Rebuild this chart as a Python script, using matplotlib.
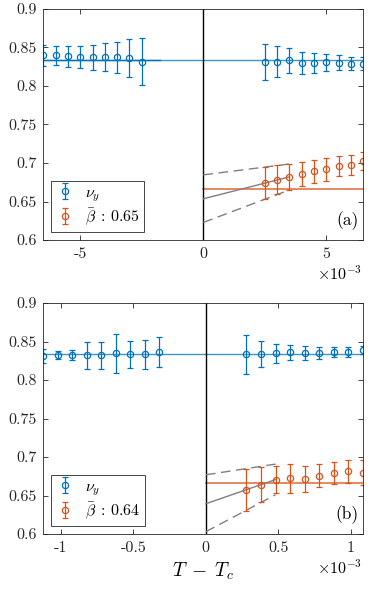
import numpy as np
import matplotlib
matplotlib.use('Agg')
import matplotlib.pyplot as plt

plt.rcParams['font.family'] = 'serif'
plt.rcParams['font.serif'] = ['cmr10']
plt.rcParams['mathtext.fontset'] = 'cm'
plt.rcParams['axes.unicode_minus'] = False

BLUE = '#0072BD'
ORANGE = '#D95319'

# panel (a): T - Tc in units of 1e-3
a_x_left = [-6.5, -6.0, -5.5, -5.0, -4.5, -4.0, -3.5, -3.0, -2.5]
a_x_right = [2.5, 3.0, 3.5, 4.0, 4.5, 5.0, 5.5, 6.0, 6.5]
a_nu_left = [0.8396, 0.8396, 0.8383, 0.8378, 0.8370, 0.8380, 0.8374, 0.8365, 0.8317]
a_nu_left_err = [0.013, 0.0126, 0.014, 0.0146, 0.0157, 0.018, 0.020, 0.025, 0.030]
a_nu_right = [0.8313, 0.8317, 0.8335, 0.8300, 0.8296, 0.8309, 0.8304, 0.8291, 0.8291]
a_nu_right_err = [0.0237, 0.020, 0.016, 0.014, 0.013, 0.011, 0.010, 0.0085, 0.008]
a_beta = [0.6737, 0.6785, 0.6820, 0.6860, 0.6890, 0.6917, 0.6956, 0.6974, 0.7022]
a_beta_err = [0.0206, 0.0186, 0.0167, 0.0154, 0.0147, 0.0145, 0.013, 0.0127, 0.0118]
a_fit = [0.6535, 0.6820]       # fit line at x=0 and x=3.5
a_fit_hi = [0.6846, 0.6987]
a_fit_lo = [0.6228, 0.6650]
a_fit_x = [0.0, 3.5]
a_xlim = (-6.5, 6.5)
a_xticks = [-5, 0, 5]

# panel (b)
b_x_left = [-1.12, -1.02, -0.92, -0.82, -0.72, -0.62, -0.52, -0.42, -0.32]
b_x_right = [0.28, 0.38, 0.48, 0.58, 0.68, 0.78, 0.88, 0.98, 1.08]
b_nu_left = [0.8310, 0.8323, 0.8323, 0.8319, 0.8319, 0.8345, 0.8332, 0.8332, 0.8362]
b_nu_left_err = [0.0093, 0.0054, 0.0065, 0.017, 0.017, 0.025, 0.0172, 0.0187, 0.0196]
b_nu_right = [0.8332, 0.8340, 0.8345, 0.8358, 0.8353, 0.8353, 0.8362, 0.8366, 0.8392]
b_nu_right_err = [0.0256, 0.017, 0.0129, 0.0103, 0.0088, 0.0078, 0.0069, 0.0065, 0.0056]
b_beta = [0.6576, 0.6642, 0.6707, 0.6725, 0.6716, 0.6755, 0.6795, 0.6812, 0.6795]
b_beta_err = [0.0273, 0.0223, 0.017, 0.019, 0.0168, 0.015, 0.0144, 0.0153, 0.016]
b_fit = [0.6393, 0.6707]
b_fit_hi = [0.6769, 0.6908]
b_fit_lo = [0.6030, 0.6510]
b_fit_x = [0.0, 0.48]
b_xlim = (-1.12, 1.085)
b_xticks = [-1, -0.5, 0, 0.5, 1]

nu_const = 0.8333
beta_const = 0.6667
yticks = [0.6, 0.65, 0.7, 0.75, 0.8, 0.85, 0.9]


def draw_panel(ax, xl, xr, nul, nule, nur, nure, beta, betae,
               fx, fit, fhi, flo, xlim, xticks, beta_label, tag, dark_seg):
    ax.axhline(nu_const, color=BLUE, lw=1.0, alpha=0.75, zorder=1)
    if dark_seg:
        ax.plot([xlim[0], xlim[0] * 0.27], [nu_const, nu_const], color=BLUE, lw=1.0, zorder=1)
    ax.plot([0, xlim[1]], [beta_const, beta_const], color=ORANGE, lw=1.2, alpha=0.8, zorder=1)
    ax.axvline(0, color='k', lw=1.0, zorder=2)

    ax.plot(fx, fit, color='0.5', lw=1.0, zorder=2)
    ax.plot(fx, fhi, color='0.5', lw=1.0, ls=(0, (7, 4)), zorder=2)
    ax.plot(fx, flo, color='0.5', lw=1.0, ls=(0, (7, 4)), zorder=2)

    ekw = dict(fmt='o', mfc='none', ms=4.5, mew=0.9, elinewidth=0.9, capsize=2.2, capthick=0.9)
    h_nu = ax.errorbar(xl + xr, nul + nur, yerr=nule + nure, color=BLUE, **ekw)
    h_b = ax.errorbar(xr, beta, yerr=betae, color=ORANGE, **ekw)

    ax.set_xlim(*xlim)
    ax.set_ylim(0.6, 0.9)
    ax.set_xticks(xticks)
    ax.set_xticklabels(['%g' % t for t in xticks])
    ax.set_yticks(yticks)
    ax.set_yticklabels(['%g' % t for t in yticks])
    ax.tick_params(direction='in', top=True, right=True, length=3.5, width=0.6,
                   labelsize=11.5, colors='#262626', pad=5)
    for s in ax.spines.values():
        s.set_linewidth(0.6)
        s.set_color('#262626')

    leg = ax.legend([h_nu, h_b], [r'$\nu_y$', beta_label], loc='lower left',
                    bbox_to_anchor=(0.024, 0.035), borderaxespad=0, fancybox=False,
                    fontsize=11.5, handlelength=1.2, handletextpad=0.6,
                    borderpad=0.3, labelspacing=0.15, framealpha=1)
    leg.get_frame().set_edgecolor('#262626')
    leg.get_frame().set_linewidth(0.6)

    ax.text(0.985, 0.085, tag, transform=ax.transAxes, ha='right', va='center',
            fontsize=12.5)
    ax.text(0.995, -0.145, r'$\times 10^{-3}$', transform=ax.transAxes,
            ha='right', va='center', fontsize=11.5)


fig = plt.figure(figsize=(3.74, 5.91), dpi=100)
ax1 = fig.add_axes([0.1158, 0.5939, 0.8556, 0.3909])
ax2 = fig.add_axes([0.1158, 0.0964, 0.8556, 0.3909])

draw_panel(ax1, a_x_left, a_x_right, a_nu_left, a_nu_left_err, a_nu_right, a_nu_right_err,
           a_beta, a_beta_err, a_fit_x, a_fit, a_fit_hi, a_fit_lo, a_xlim, a_xticks,
           r'$\bar{\beta}\;:\,0.65$', '(a)', True)
draw_panel(ax2, b_x_left, b_x_right, b_nu_left, b_nu_left_err, b_nu_right, b_nu_right_err,
           b_beta, b_beta_err, b_fit_x, b_fit, b_fit_hi, b_fit_lo, b_xlim, b_xticks,
           r'$\bar{\beta}\;:\,0.64$', '(b)', False)
ax2.set_xlabel(r'$T\;-\;T_c$', fontsize=14, labelpad=4)

fig.savefig('out.png', dpi=100)
